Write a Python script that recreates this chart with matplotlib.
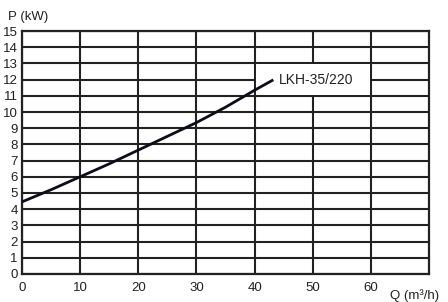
import matplotlib.pyplot as plt
from matplotlib.patches import Rectangle

plt.rcParams['font.family'] = ['Liberation Sans', 'DejaVu Sans']

q = [0, 5, 10, 15, 20, 25, 30, 35, 40, 43]
p = [4.45, 5.2, 6.0, 6.8, 7.65, 8.5, 9.35, 10.3, 11.35, 11.95]
x_ticks = [0, 10, 20, 30, 40, 50, 60]
y_ticks = list(range(0, 16))
label = "LKH-35/220"

fig = plt.figure(figsize=(4.48, 3.02), dpi=100)
ax = fig.add_axes([0.049, 0.093, 0.909, 0.804])

ax.set_xlim(0, 70)
ax.set_ylim(0, 15)
ax.set_xticks(x_ticks)
ax.set_yticks(y_ticks)
ax.tick_params(length=0, labelsize=9.5, colors='#222222')
ax.tick_params(axis='y', pad=3)
ax.tick_params(axis='x', pad=6)
ax.grid(True, color='#222222', linewidth=1.5)
ax.set_axisbelow(True)
for s in ax.spines.values():
    s.set_linewidth(1.6)
    s.set_color('#222222')

# white box behind the curve label
ax.add_patch(Rectangle((40.3, 11.05), 19.6, 1.9, facecolor='white',
                       edgecolor='none', zorder=2.5))
ax.text(44.2, 12.0, label, fontsize=10, va='center', ha='left',
        color='#222222', zorder=3)

ax.plot(q, p, color='#0d0d1a', linewidth=2, zorder=3)

fig.text(0.018, 0.945, "P (kW)", fontsize=9.5, color='#222222', va='center')
fig.text(0.87, 0.022, "Q (m³/h)", fontsize=9.5, color='#222222', va='center')

plt.savefig("out.png", dpi=100)
